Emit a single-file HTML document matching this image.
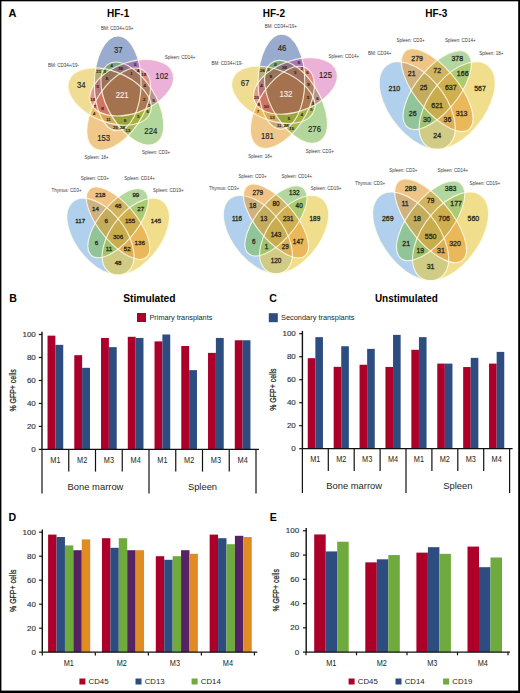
<!DOCTYPE html>
<html><head><meta charset="utf-8"><style>
html,body{margin:0;padding:0;background:#fff;}
svg{display:block;font-family:"Liberation Sans",sans-serif;}
</style></head><body>
<svg width="520" height="693" viewBox="0 0 520 693">
<rect x="0" y="0" width="520" height="693" fill="#fff"/>
<text x="8.40" y="17.20" font-size="11.00" text-anchor="start" font-weight="bold" fill="#000" >A</text>
<text x="9.30" y="302.20" font-size="10.60" text-anchor="start" font-weight="bold" fill="#000" >B</text>
<text x="269.30" y="302.20" font-size="10.60" text-anchor="start" font-weight="bold" fill="#000" >C</text>
<text x="8.60" y="521.40" font-size="10.60" text-anchor="start" font-weight="bold" fill="#000" >D</text>
<text x="269.80" y="521.40" font-size="10.60" text-anchor="start" font-weight="bold" fill="#000" >E</text>
<text x="118.10" y="17.20" font-size="10.00" text-anchor="middle" font-weight="bold" fill="#000" >HF-1</text>
<text x="273.90" y="17.20" font-size="10.00" text-anchor="middle" font-weight="bold" fill="#000" >HF-2</text>
<text x="436.30" y="17.20" font-size="10.00" text-anchor="middle" font-weight="bold" fill="#000" >HF-3</text>
<g transform="matrix(94.0725,0,0,-103.0846,74.972,147.607)">
<ellipse cx="0.45438" cy="0.62323" rx="0.2483" ry="0.46" transform="rotate(-0.693 0.45438 0.62323)" fill="rgb(149,166,206)" fill-opacity="0.950"/>
<ellipse cx="0.36871" cy="0.49469" rx="0.2483" ry="0.46" transform="rotate(-288.693 0.36871 0.49469)" fill="rgb(220,173,0)" fill-opacity="0.429"/>
<ellipse cx="0.46448" cy="0.37349" rx="0.2483" ry="0.46" transform="rotate(-216.693 0.46448 0.37349)" fill="rgb(231,168,73)" fill-opacity="0.633"/>
<ellipse cx="0.60934" cy="0.42712" rx="0.2483" ry="0.46" transform="rotate(-144.693 0.60934 0.42712)" fill="rgb(73,158,20)" fill-opacity="0.422"/>
<ellipse cx="0.60310" cy="0.58147" rx="0.2483" ry="0.46" transform="rotate(-72.693 0.60310 0.58147)" fill="rgb(189,0,127)" fill-opacity="0.305"/>
<ellipse cx="0.45438" cy="0.62323" rx="0.2483" ry="0.46" transform="rotate(-0.693 0.45438 0.62323)" fill="none" stroke="#fffbe6" stroke-opacity="0.85" stroke-width="1.15" vector-effect="non-scaling-stroke"/>
<ellipse cx="0.36871" cy="0.49469" rx="0.2483" ry="0.46" transform="rotate(-288.693 0.36871 0.49469)" fill="none" stroke="#fffbe6" stroke-opacity="0.85" stroke-width="1.15" vector-effect="non-scaling-stroke"/>
<ellipse cx="0.46448" cy="0.37349" rx="0.2483" ry="0.46" transform="rotate(-216.693 0.46448 0.37349)" fill="none" stroke="#fffbe6" stroke-opacity="0.85" stroke-width="1.15" vector-effect="non-scaling-stroke"/>
<ellipse cx="0.60934" cy="0.42712" rx="0.2483" ry="0.46" transform="rotate(-144.693 0.60934 0.42712)" fill="none" stroke="#fffbe6" stroke-opacity="0.85" stroke-width="1.15" vector-effect="non-scaling-stroke"/>
<ellipse cx="0.60310" cy="0.58147" rx="0.2483" ry="0.46" transform="rotate(-72.693 0.60310 0.58147)" fill="none" stroke="#fffbe6" stroke-opacity="0.85" stroke-width="1.15" vector-effect="non-scaling-stroke"/>
</g>
<text x="118.30" y="52.81" font-size="8.70" text-anchor="middle" fill="#231f20" stroke="#231f20" stroke-width="0.15" textLength="8.60" lengthAdjust="spacingAndGlyphs">37</text>
<text x="161.80" y="79.21" font-size="8.70" text-anchor="middle" fill="#231f20" stroke="#231f20" stroke-width="0.15" textLength="12.90" lengthAdjust="spacingAndGlyphs">102</text>
<text x="135.25" y="65.80" font-size="4.30" text-anchor="middle" fill="#2a1a10" stroke="#2a1a10" stroke-width="0.2">5</text>
<text x="150.80" y="133.91" font-size="8.70" text-anchor="middle" fill="#231f20" stroke="#231f20" stroke-width="0.15" textLength="12.90" lengthAdjust="spacingAndGlyphs">224</text>
<text x="111.75" y="67.30" font-size="4.30" text-anchor="middle" fill="#2a1a10" stroke="#2a1a10" stroke-width="0.2">4</text>
<text x="153.75" y="101.80" font-size="4.30" text-anchor="middle" fill="#2a1a10" stroke="#2a1a10" stroke-width="0.2">5</text>
<text x="120.75" y="70.30" font-size="4.30" text-anchor="middle" fill="#2a1a10" stroke="#2a1a10" stroke-width="0.2">36</text>
<text x="103.70" y="141.11" font-size="8.70" text-anchor="middle" fill="#231f20" stroke="#231f20" stroke-width="0.15" textLength="12.90" lengthAdjust="spacingAndGlyphs">153</text>
<text x="115.50" y="129.05" font-size="4.30" text-anchor="middle" fill="#2a1a10" stroke="#2a1a10" stroke-width="0.2">25</text>
<text x="143.75" y="76.05" font-size="4.30" text-anchor="middle" fill="#2a1a10" stroke="#2a1a10" stroke-width="0.2">19</text>
<text x="138.25" y="72.05" font-size="4.30" text-anchor="middle" fill="#2a1a10" stroke="#2a1a10" stroke-width="0.2">4</text>
<text x="128.00" y="132.05" font-size="4.30" text-anchor="middle" fill="#2a1a10" stroke="#2a1a10" stroke-width="0.2">13</text>
<text x="122.50" y="128.80" font-size="4.30" text-anchor="middle" fill="#2a1a10" stroke="#2a1a10" stroke-width="0.2">24</text>
<text x="144.75" y="87.30" font-size="4.30" text-anchor="middle" fill="#2a1a10" stroke="#2a1a10" stroke-width="0.2">4</text>
<text x="131.50" y="75.30" font-size="4.30" text-anchor="middle" fill="#2a1a10" stroke="#2a1a10" stroke-width="0.2">1</text>
<text x="81.30" y="87.81" font-size="8.70" text-anchor="middle" fill="#231f20" stroke="#231f20" stroke-width="0.15" textLength="8.60" lengthAdjust="spacingAndGlyphs">34</text>
<text x="98.75" y="73.30" font-size="4.30" text-anchor="middle" fill="#2a1a10" stroke="#2a1a10" stroke-width="0.2">21</text>
<text x="92.75" y="100.80" font-size="4.30" text-anchor="middle" fill="#2a1a10" stroke="#2a1a10" stroke-width="0.2">18</text>
<text x="97.75" y="88.30" font-size="4.30" text-anchor="middle" fill="#2a1a10" stroke="#2a1a10" stroke-width="0.2">5</text>
<text x="147.75" y="113.05" font-size="4.30" text-anchor="middle" fill="#2a1a10" stroke="#2a1a10" stroke-width="0.2">6</text>
<text x="104.75" y="72.80" font-size="4.30" text-anchor="middle" fill="#2a1a10" stroke="#2a1a10" stroke-width="0.2">3</text>
<text x="149.25" y="106.80" font-size="4.30" text-anchor="middle" fill="#2a1a10" stroke="#2a1a10" stroke-width="0.2">2</text>
<text x="107.00" y="79.55" font-size="4.30" text-anchor="middle" fill="#2a1a10" stroke="#2a1a10" stroke-width="0.2">8</text>
<text x="94.25" y="114.80" font-size="4.30" text-anchor="middle" fill="#2a1a10" stroke="#2a1a10" stroke-width="0.2">4</text>
<text x="108.50" y="120.55" font-size="4.30" text-anchor="middle" fill="#2a1a10" stroke="#2a1a10" stroke-width="0.2">11</text>
<text x="95.00" y="107.80" font-size="4.30" text-anchor="middle" fill="#2a1a10" stroke="#2a1a10" stroke-width="0.2">7</text>
<text x="102.50" y="109.80" font-size="4.30" text-anchor="middle" fill="#2a1a10" stroke="#2a1a10" stroke-width="0.2">9</text>
<text x="138.25" y="117.55" font-size="4.30" text-anchor="middle" fill="#2a1a10" stroke="#2a1a10" stroke-width="0.2">3</text>
<text x="125.25" y="121.80" font-size="4.30" text-anchor="middle" fill="#2a1a10" stroke="#2a1a10" stroke-width="0.2">6</text>
<text x="144.25" y="100.80" font-size="4.30" text-anchor="middle" fill="#2a1a10" stroke="#2a1a10" stroke-width="0.2">2</text>
<text x="122.20" y="98.41" font-size="8.70" text-anchor="middle" fill="#fbeee0" stroke="#fbeee0" stroke-width="0.15" textLength="12.90" lengthAdjust="spacingAndGlyphs">221</text>
<text x="101.00" y="29.68" font-size="4.50" text-anchor="start" fill="#3a3a3a" >BM: CD34+/19+</text>
<text x="47.90" y="66.88" font-size="4.50" text-anchor="start" fill="#3a3a3a" >BM: CD34+/19-</text>
<text x="164.80" y="59.38" font-size="4.50" text-anchor="start" fill="#3a3a3a" >Spleen: CD14+</text>
<text x="142.00" y="154.38" font-size="4.50" text-anchor="start" fill="#3a3a3a" >Spleen: CD3+</text>
<text x="84.60" y="159.27" font-size="4.50" text-anchor="start" fill="#3a3a3a" >Spleen: 18+</text>
<g transform="matrix(94.0725,0,0,-103.0846,238.672,145.907)">
<ellipse cx="0.45438" cy="0.62323" rx="0.2483" ry="0.46" transform="rotate(-0.693 0.45438 0.62323)" fill="rgb(149,166,206)" fill-opacity="0.950"/>
<ellipse cx="0.36871" cy="0.49469" rx="0.2483" ry="0.46" transform="rotate(-288.693 0.36871 0.49469)" fill="rgb(220,173,0)" fill-opacity="0.429"/>
<ellipse cx="0.46448" cy="0.37349" rx="0.2483" ry="0.46" transform="rotate(-216.693 0.46448 0.37349)" fill="rgb(231,168,73)" fill-opacity="0.633"/>
<ellipse cx="0.60934" cy="0.42712" rx="0.2483" ry="0.46" transform="rotate(-144.693 0.60934 0.42712)" fill="rgb(73,158,20)" fill-opacity="0.422"/>
<ellipse cx="0.60310" cy="0.58147" rx="0.2483" ry="0.46" transform="rotate(-72.693 0.60310 0.58147)" fill="rgb(189,0,127)" fill-opacity="0.305"/>
<ellipse cx="0.45438" cy="0.62323" rx="0.2483" ry="0.46" transform="rotate(-0.693 0.45438 0.62323)" fill="none" stroke="#fffbe6" stroke-opacity="0.85" stroke-width="1.15" vector-effect="non-scaling-stroke"/>
<ellipse cx="0.36871" cy="0.49469" rx="0.2483" ry="0.46" transform="rotate(-288.693 0.36871 0.49469)" fill="none" stroke="#fffbe6" stroke-opacity="0.85" stroke-width="1.15" vector-effect="non-scaling-stroke"/>
<ellipse cx="0.46448" cy="0.37349" rx="0.2483" ry="0.46" transform="rotate(-216.693 0.46448 0.37349)" fill="none" stroke="#fffbe6" stroke-opacity="0.85" stroke-width="1.15" vector-effect="non-scaling-stroke"/>
<ellipse cx="0.60934" cy="0.42712" rx="0.2483" ry="0.46" transform="rotate(-144.693 0.60934 0.42712)" fill="none" stroke="#fffbe6" stroke-opacity="0.85" stroke-width="1.15" vector-effect="non-scaling-stroke"/>
<ellipse cx="0.60310" cy="0.58147" rx="0.2483" ry="0.46" transform="rotate(-72.693 0.60310 0.58147)" fill="none" stroke="#fffbe6" stroke-opacity="0.85" stroke-width="1.15" vector-effect="non-scaling-stroke"/>
</g>
<text x="282.00" y="51.11" font-size="8.70" text-anchor="middle" fill="#231f20" stroke="#231f20" stroke-width="0.15" textLength="8.60" lengthAdjust="spacingAndGlyphs">46</text>
<text x="325.50" y="77.51" font-size="8.70" text-anchor="middle" fill="#231f20" stroke="#231f20" stroke-width="0.15" textLength="12.90" lengthAdjust="spacingAndGlyphs">125</text>
<text x="298.95" y="64.10" font-size="4.30" text-anchor="middle" fill="#2a1a10" stroke="#2a1a10" stroke-width="0.2">6</text>
<text x="314.50" y="132.21" font-size="8.70" text-anchor="middle" fill="#231f20" stroke="#231f20" stroke-width="0.15" textLength="12.90" lengthAdjust="spacingAndGlyphs">276</text>
<text x="275.45" y="65.60" font-size="4.30" text-anchor="middle" fill="#2a1a10" stroke="#2a1a10" stroke-width="0.2">8</text>
<text x="317.45" y="100.10" font-size="4.30" text-anchor="middle" fill="#2a1a10" stroke="#2a1a10" stroke-width="0.2">6</text>
<text x="284.45" y="68.60" font-size="4.30" text-anchor="middle" fill="#2a1a10" stroke="#2a1a10" stroke-width="0.2">38</text>
<text x="267.40" y="139.41" font-size="8.70" text-anchor="middle" fill="#231f20" stroke="#231f20" stroke-width="0.15" textLength="12.90" lengthAdjust="spacingAndGlyphs">181</text>
<text x="279.20" y="127.35" font-size="4.30" text-anchor="middle" fill="#2a1a10" stroke="#2a1a10" stroke-width="0.2">11</text>
<text x="307.45" y="74.35" font-size="4.30" text-anchor="middle" fill="#2a1a10" stroke="#2a1a10" stroke-width="0.2">6</text>
<text x="301.95" y="70.35" font-size="4.30" text-anchor="middle" fill="#2a1a10" stroke="#2a1a10" stroke-width="0.2">2</text>
<text x="291.70" y="130.35" font-size="4.30" text-anchor="middle" fill="#2a1a10" stroke="#2a1a10" stroke-width="0.2">15</text>
<text x="286.20" y="127.10" font-size="4.30" text-anchor="middle" fill="#2a1a10" stroke="#2a1a10" stroke-width="0.2">28</text>
<text x="308.45" y="85.60" font-size="4.30" text-anchor="middle" fill="#2a1a10" stroke="#2a1a10" stroke-width="0.2">9</text>
<text x="295.20" y="73.60" font-size="4.30" text-anchor="middle" fill="#2a1a10" stroke="#2a1a10" stroke-width="0.2">3</text>
<text x="245.00" y="86.11" font-size="8.70" text-anchor="middle" fill="#231f20" stroke="#231f20" stroke-width="0.15" textLength="8.60" lengthAdjust="spacingAndGlyphs">67</text>
<text x="262.45" y="71.60" font-size="4.30" text-anchor="middle" fill="#2a1a10" stroke="#2a1a10" stroke-width="0.2">26</text>
<text x="256.45" y="99.10" font-size="4.30" text-anchor="middle" fill="#2a1a10" stroke="#2a1a10" stroke-width="0.2">20</text>
<text x="261.45" y="86.60" font-size="4.30" text-anchor="middle" fill="#2a1a10" stroke="#2a1a10" stroke-width="0.2">4</text>
<text x="311.45" y="111.35" font-size="4.30" text-anchor="middle" fill="#2a1a10" stroke="#2a1a10" stroke-width="0.2">5</text>
<text x="268.45" y="71.10" font-size="4.30" text-anchor="middle" fill="#2a1a10" stroke="#2a1a10" stroke-width="0.2">2</text>
<text x="312.95" y="105.10" font-size="4.30" text-anchor="middle" fill="#2a1a10" stroke="#2a1a10" stroke-width="0.2">3</text>
<text x="270.70" y="77.85" font-size="4.30" text-anchor="middle" fill="#2a1a10" stroke="#2a1a10" stroke-width="0.2">9</text>
<text x="257.95" y="113.10" font-size="4.30" text-anchor="middle" fill="#2a1a10" stroke="#2a1a10" stroke-width="0.2">7</text>
<text x="272.20" y="118.85" font-size="4.30" text-anchor="middle" fill="#2a1a10" stroke="#2a1a10" stroke-width="0.2">13</text>
<text x="258.70" y="106.10" font-size="4.30" text-anchor="middle" fill="#2a1a10" stroke="#2a1a10" stroke-width="0.2">8</text>
<text x="266.20" y="108.10" font-size="4.30" text-anchor="middle" fill="#2a1a10" stroke="#2a1a10" stroke-width="0.2">10</text>
<text x="301.95" y="115.85" font-size="4.30" text-anchor="middle" fill="#2a1a10" stroke="#2a1a10" stroke-width="0.2">4</text>
<text x="288.95" y="120.10" font-size="4.30" text-anchor="middle" fill="#2a1a10" stroke="#2a1a10" stroke-width="0.2">5</text>
<text x="307.95" y="99.10" font-size="4.30" text-anchor="middle" fill="#2a1a10" stroke="#2a1a10" stroke-width="0.2">3</text>
<text x="285.90" y="96.71" font-size="8.70" text-anchor="middle" fill="#fbeee0" stroke="#fbeee0" stroke-width="0.15" textLength="12.90" lengthAdjust="spacingAndGlyphs">132</text>
<text x="264.70" y="27.98" font-size="4.50" text-anchor="start" fill="#3a3a3a" >BM: CD34+/19+</text>
<text x="211.60" y="65.17" font-size="4.50" text-anchor="start" fill="#3a3a3a" >BM: CD34+/19-</text>
<text x="328.50" y="57.67" font-size="4.50" text-anchor="start" fill="#3a3a3a" >Spleen: CD14+</text>
<text x="305.70" y="152.68" font-size="4.50" text-anchor="start" fill="#3a3a3a" >Spleen: CD3+</text>
<text x="248.30" y="157.57" font-size="4.50" text-anchor="start" fill="#3a3a3a" >Spleen: 18+</text>
<g transform="matrix(133.1320,0,0,-153.5012,370.618,177.665)">
<ellipse cx="0.35000" cy="0.47000" rx="0.35" ry="0.2" transform="rotate(135.000 0.35000 0.47000)" fill="rgb(123,177,227)" fill-opacity="0.600"/>
<ellipse cx="0.65000" cy="0.47000" rx="0.35" ry="0.2" transform="rotate(45.000 0.65000 0.47000)" fill="rgb(230,200,63)" fill-opacity="0.600"/>
<ellipse cx="0.50000" cy="0.57000" rx="0.33" ry="0.15" transform="rotate(45.000 0.50000 0.57000)" fill="rgb(127,188,97)" fill-opacity="0.600"/>
<ellipse cx="0.50000" cy="0.57000" rx="0.35" ry="0.15" transform="rotate(135.000 0.50000 0.57000)" fill="rgb(230,157,55)" fill-opacity="0.600"/>
<ellipse cx="0.35000" cy="0.47000" rx="0.35" ry="0.2" transform="rotate(135.000 0.35000 0.47000)" fill="none" stroke="#fffbe6" stroke-opacity="0.85" stroke-width="1.15" vector-effect="non-scaling-stroke"/>
<ellipse cx="0.65000" cy="0.47000" rx="0.35" ry="0.2" transform="rotate(45.000 0.65000 0.47000)" fill="none" stroke="#fffbe6" stroke-opacity="0.85" stroke-width="1.15" vector-effect="non-scaling-stroke"/>
<ellipse cx="0.50000" cy="0.57000" rx="0.33" ry="0.15" transform="rotate(45.000 0.50000 0.57000)" fill="none" stroke="#fffbe6" stroke-opacity="0.85" stroke-width="1.15" vector-effect="non-scaling-stroke"/>
<ellipse cx="0.50000" cy="0.57000" rx="0.35" ry="0.15" transform="rotate(135.000 0.50000 0.57000)" fill="none" stroke="#fffbe6" stroke-opacity="0.85" stroke-width="1.15" vector-effect="non-scaling-stroke"/>
</g>
<text x="394.37" y="90.50" font-size="7.00" text-anchor="middle" fill="#2a2a1a" stroke="#2a2a1a" stroke-width="0.3">210</text>
<text x="417.14" y="60.54" font-size="7.00" text-anchor="middle" fill="#2a2a1a" stroke="#2a2a1a" stroke-width="0.3">279</text>
<text x="457.23" y="60.54" font-size="7.00" text-anchor="middle" fill="#2a2a1a" stroke="#2a2a1a" stroke-width="0.3">378</text>
<text x="480.00" y="90.50" font-size="7.00" text-anchor="middle" fill="#2a2a1a" stroke="#2a2a1a" stroke-width="0.3">567</text>
<text x="411.68" y="76.04" font-size="7.00" text-anchor="middle" fill="#2a2a1a" stroke="#2a2a1a" stroke-width="0.3">21</text>
<text x="437.18" y="72.99" font-size="7.00" text-anchor="middle" fill="#2a2a1a" stroke="#2a2a1a" stroke-width="0.3">72</text>
<text x="462.69" y="76.04" font-size="7.00" text-anchor="middle" fill="#2a2a1a" stroke="#2a2a1a" stroke-width="0.3">166</text>
<text x="423.63" y="90.30" font-size="7.00" text-anchor="middle" fill="#2a2a1a" stroke="#2a2a1a" stroke-width="0.3">25</text>
<text x="450.74" y="90.30" font-size="7.00" text-anchor="middle" fill="#2a2a1a" stroke="#2a2a1a" stroke-width="0.3">637</text>
<text x="437.18" y="107.99" font-size="7.00" text-anchor="middle" fill="#2a2a1a" stroke="#2a2a1a" stroke-width="0.3">621</text>
<text x="412.77" y="115.54" font-size="7.00" text-anchor="middle" fill="#2a2a1a" stroke="#2a2a1a" stroke-width="0.3">26</text>
<text x="461.59" y="115.54" font-size="7.00" text-anchor="middle" fill="#2a2a1a" stroke="#2a2a1a" stroke-width="0.3">313</text>
<text x="426.90" y="121.90" font-size="7.00" text-anchor="middle" fill="#2a2a1a" stroke="#2a2a1a" stroke-width="0.3">30</text>
<text x="447.47" y="121.90" font-size="7.00" text-anchor="middle" fill="#2a2a1a" stroke="#2a2a1a" stroke-width="0.3">36</text>
<text x="437.18" y="137.75" font-size="7.00" text-anchor="middle" fill="#2a2a1a" stroke="#2a2a1a" stroke-width="0.3">24</text>
<text x="368.00" y="55.28" font-size="4.50" text-anchor="start" fill="#3a3a3a" >BM: CD34+</text>
<text x="396.50" y="42.18" font-size="4.50" text-anchor="start" fill="#3a3a3a" >Spleen: CD3+</text>
<text x="445.00" y="42.18" font-size="4.50" text-anchor="start" fill="#3a3a3a" >Spleen: CD14+</text>
<text x="479.30" y="55.28" font-size="4.50" text-anchor="start" fill="#3a3a3a" >Spleen: 18+</text>
<g transform="matrix(117.8490,0,0,-134.5836,59.179,299.841)">
<ellipse cx="0.35000" cy="0.47000" rx="0.35" ry="0.2" transform="rotate(135.000 0.35000 0.47000)" fill="rgb(123,177,227)" fill-opacity="0.600"/>
<ellipse cx="0.65000" cy="0.47000" rx="0.35" ry="0.2" transform="rotate(45.000 0.65000 0.47000)" fill="rgb(230,200,63)" fill-opacity="0.600"/>
<ellipse cx="0.50000" cy="0.57000" rx="0.33" ry="0.15" transform="rotate(45.000 0.50000 0.57000)" fill="rgb(127,188,97)" fill-opacity="0.600"/>
<ellipse cx="0.50000" cy="0.57000" rx="0.35" ry="0.15" transform="rotate(135.000 0.50000 0.57000)" fill="rgb(230,157,55)" fill-opacity="0.600"/>
<ellipse cx="0.35000" cy="0.47000" rx="0.35" ry="0.2" transform="rotate(135.000 0.35000 0.47000)" fill="none" stroke="#fffbe6" stroke-opacity="0.85" stroke-width="1.15" vector-effect="non-scaling-stroke"/>
<ellipse cx="0.65000" cy="0.47000" rx="0.35" ry="0.2" transform="rotate(45.000 0.65000 0.47000)" fill="none" stroke="#fffbe6" stroke-opacity="0.85" stroke-width="1.15" vector-effect="non-scaling-stroke"/>
<ellipse cx="0.50000" cy="0.57000" rx="0.33" ry="0.15" transform="rotate(45.000 0.50000 0.57000)" fill="none" stroke="#fffbe6" stroke-opacity="0.85" stroke-width="1.15" vector-effect="non-scaling-stroke"/>
<ellipse cx="0.50000" cy="0.57000" rx="0.35" ry="0.15" transform="rotate(135.000 0.50000 0.57000)" fill="none" stroke="#fffbe6" stroke-opacity="0.85" stroke-width="1.15" vector-effect="non-scaling-stroke"/>
</g>
<text x="80.21" y="223.44" font-size="6.20" text-anchor="middle" fill="#2a2a1a" stroke="#2a2a1a" stroke-width="0.3">117</text>
<text x="100.36" y="197.17" font-size="6.20" text-anchor="middle" fill="#2a2a1a" stroke="#2a2a1a" stroke-width="0.3">218</text>
<text x="135.85" y="197.17" font-size="6.20" text-anchor="middle" fill="#2a2a1a" stroke="#2a2a1a" stroke-width="0.3">99</text>
<text x="156.00" y="223.44" font-size="6.20" text-anchor="middle" fill="#2a2a1a" stroke="#2a2a1a" stroke-width="0.3">145</text>
<text x="95.52" y="210.76" font-size="6.20" text-anchor="middle" fill="#2a2a1a" stroke="#2a2a1a" stroke-width="0.3">14</text>
<text x="118.10" y="208.09" font-size="6.20" text-anchor="middle" fill="#2a2a1a" stroke="#2a2a1a" stroke-width="0.3">48</text>
<text x="140.68" y="210.76" font-size="6.20" text-anchor="middle" fill="#2a2a1a" stroke="#2a2a1a" stroke-width="0.3">27</text>
<text x="106.11" y="223.27" font-size="6.20" text-anchor="middle" fill="#2a2a1a" stroke="#2a2a1a" stroke-width="0.3">6</text>
<text x="130.10" y="223.27" font-size="6.20" text-anchor="middle" fill="#2a2a1a" stroke="#2a2a1a" stroke-width="0.3">155</text>
<text x="118.10" y="238.77" font-size="6.20" text-anchor="middle" fill="#2a2a1a" stroke="#2a2a1a" stroke-width="0.3">306</text>
<text x="96.50" y="245.39" font-size="6.20" text-anchor="middle" fill="#2a2a1a" stroke="#2a2a1a" stroke-width="0.3">6</text>
<text x="139.71" y="245.39" font-size="6.20" text-anchor="middle" fill="#2a2a1a" stroke="#2a2a1a" stroke-width="0.3">136</text>
<text x="109.00" y="250.97" font-size="6.20" text-anchor="middle" fill="#2a2a1a" stroke="#2a2a1a" stroke-width="0.3">11</text>
<text x="127.21" y="250.97" font-size="6.20" text-anchor="middle" fill="#2a2a1a" stroke="#2a2a1a" stroke-width="0.3">52</text>
<text x="118.10" y="264.86" font-size="6.20" text-anchor="middle" fill="#2a2a1a" stroke="#2a2a1a" stroke-width="0.3">48</text>
<text x="51.50" y="191.57" font-size="4.50" text-anchor="start" fill="#3a3a3a" >Thymus: CD3+</text>
<text x="80.80" y="180.38" font-size="4.50" text-anchor="start" fill="#3a3a3a" >Spleen: CD3+</text>
<text x="124.20" y="180.07" font-size="4.50" text-anchor="start" fill="#3a3a3a" >Spleen: CD14+</text>
<text x="153.10" y="191.88" font-size="4.50" text-anchor="start" fill="#3a3a3a" >Spleen: CD19+</text>
<g transform="matrix(120.9500,0,0,-137.0363,215.513,299.059)">
<ellipse cx="0.35000" cy="0.47000" rx="0.35" ry="0.2" transform="rotate(135.000 0.35000 0.47000)" fill="rgb(123,177,227)" fill-opacity="0.600"/>
<ellipse cx="0.65000" cy="0.47000" rx="0.35" ry="0.2" transform="rotate(45.000 0.65000 0.47000)" fill="rgb(230,200,63)" fill-opacity="0.600"/>
<ellipse cx="0.50000" cy="0.57000" rx="0.33" ry="0.15" transform="rotate(45.000 0.50000 0.57000)" fill="rgb(127,188,97)" fill-opacity="0.600"/>
<ellipse cx="0.50000" cy="0.57000" rx="0.35" ry="0.15" transform="rotate(135.000 0.50000 0.57000)" fill="rgb(230,157,55)" fill-opacity="0.600"/>
<ellipse cx="0.35000" cy="0.47000" rx="0.35" ry="0.2" transform="rotate(135.000 0.35000 0.47000)" fill="none" stroke="#fffbe6" stroke-opacity="0.85" stroke-width="1.15" vector-effect="non-scaling-stroke"/>
<ellipse cx="0.65000" cy="0.47000" rx="0.35" ry="0.2" transform="rotate(45.000 0.65000 0.47000)" fill="none" stroke="#fffbe6" stroke-opacity="0.85" stroke-width="1.15" vector-effect="non-scaling-stroke"/>
<ellipse cx="0.50000" cy="0.57000" rx="0.33" ry="0.15" transform="rotate(45.000 0.50000 0.57000)" fill="none" stroke="#fffbe6" stroke-opacity="0.85" stroke-width="1.15" vector-effect="non-scaling-stroke"/>
<ellipse cx="0.50000" cy="0.57000" rx="0.35" ry="0.15" transform="rotate(135.000 0.50000 0.57000)" fill="none" stroke="#fffbe6" stroke-opacity="0.85" stroke-width="1.15" vector-effect="non-scaling-stroke"/>
</g>
<text x="237.09" y="221.28" font-size="6.36" text-anchor="middle" fill="#2a2a1a" stroke="#2a2a1a" stroke-width="0.3">116</text>
<text x="257.78" y="194.54" font-size="6.36" text-anchor="middle" fill="#2a2a1a" stroke="#2a2a1a" stroke-width="0.3">279</text>
<text x="294.20" y="194.54" font-size="6.36" text-anchor="middle" fill="#2a2a1a" stroke="#2a2a1a" stroke-width="0.3">132</text>
<text x="314.88" y="221.28" font-size="6.36" text-anchor="middle" fill="#2a2a1a" stroke="#2a2a1a" stroke-width="0.3">189</text>
<text x="252.82" y="208.37" font-size="6.36" text-anchor="middle" fill="#2a2a1a" stroke="#2a2a1a" stroke-width="0.3">18</text>
<text x="275.99" y="205.65" font-size="6.36" text-anchor="middle" fill="#2a2a1a" stroke="#2a2a1a" stroke-width="0.3">80</text>
<text x="299.16" y="208.37" font-size="6.36" text-anchor="middle" fill="#2a2a1a" stroke="#2a2a1a" stroke-width="0.3">40</text>
<text x="263.68" y="221.11" font-size="6.36" text-anchor="middle" fill="#2a2a1a" stroke="#2a2a1a" stroke-width="0.3">13</text>
<text x="288.30" y="221.11" font-size="6.36" text-anchor="middle" fill="#2a2a1a" stroke="#2a2a1a" stroke-width="0.3">231</text>
<text x="275.99" y="236.90" font-size="6.36" text-anchor="middle" fill="#2a2a1a" stroke="#2a2a1a" stroke-width="0.3">143</text>
<text x="253.81" y="243.64" font-size="6.36" text-anchor="middle" fill="#2a2a1a" stroke="#2a2a1a" stroke-width="0.3">6</text>
<text x="298.16" y="243.64" font-size="6.36" text-anchor="middle" fill="#2a2a1a" stroke="#2a2a1a" stroke-width="0.3">147</text>
<text x="266.64" y="249.31" font-size="6.36" text-anchor="middle" fill="#2a2a1a" stroke="#2a2a1a" stroke-width="0.3">1</text>
<text x="285.33" y="249.31" font-size="6.36" text-anchor="middle" fill="#2a2a1a" stroke="#2a2a1a" stroke-width="0.3">29</text>
<text x="275.99" y="263.46" font-size="6.36" text-anchor="middle" fill="#2a2a1a" stroke="#2a2a1a" stroke-width="0.3">120</text>
<text x="208.90" y="189.57" font-size="4.50" text-anchor="start" fill="#3a3a3a" >Thymus: CD3+</text>
<text x="238.50" y="177.77" font-size="4.50" text-anchor="start" fill="#3a3a3a" >Spleen: CD3+</text>
<text x="281.50" y="177.57" font-size="4.50" text-anchor="start" fill="#3a3a3a" >Spleen: CD14+</text>
<text x="310.70" y="189.57" font-size="4.50" text-anchor="start" fill="#3a3a3a" >Spleen: CD19+</text>
<g transform="matrix(133.1320,0,0,-155.2319,364.042,309.294)">
<ellipse cx="0.35000" cy="0.47000" rx="0.35" ry="0.2" transform="rotate(135.000 0.35000 0.47000)" fill="rgb(123,177,227)" fill-opacity="0.600"/>
<ellipse cx="0.65000" cy="0.47000" rx="0.35" ry="0.2" transform="rotate(45.000 0.65000 0.47000)" fill="rgb(230,200,63)" fill-opacity="0.600"/>
<ellipse cx="0.50000" cy="0.57000" rx="0.33" ry="0.15" transform="rotate(45.000 0.50000 0.57000)" fill="rgb(127,188,97)" fill-opacity="0.600"/>
<ellipse cx="0.50000" cy="0.57000" rx="0.35" ry="0.15" transform="rotate(135.000 0.50000 0.57000)" fill="rgb(230,157,55)" fill-opacity="0.600"/>
<ellipse cx="0.35000" cy="0.47000" rx="0.35" ry="0.2" transform="rotate(135.000 0.35000 0.47000)" fill="none" stroke="#fffbe6" stroke-opacity="0.85" stroke-width="1.15" vector-effect="non-scaling-stroke"/>
<ellipse cx="0.65000" cy="0.47000" rx="0.35" ry="0.2" transform="rotate(45.000 0.65000 0.47000)" fill="none" stroke="#fffbe6" stroke-opacity="0.85" stroke-width="1.15" vector-effect="non-scaling-stroke"/>
<ellipse cx="0.50000" cy="0.57000" rx="0.33" ry="0.15" transform="rotate(45.000 0.50000 0.57000)" fill="none" stroke="#fffbe6" stroke-opacity="0.85" stroke-width="1.15" vector-effect="non-scaling-stroke"/>
<ellipse cx="0.50000" cy="0.57000" rx="0.35" ry="0.15" transform="rotate(135.000 0.50000 0.57000)" fill="none" stroke="#fffbe6" stroke-opacity="0.85" stroke-width="1.15" vector-effect="non-scaling-stroke"/>
</g>
<text x="387.80" y="221.12" font-size="7.00" text-anchor="middle" fill="#2a2a1a" stroke="#2a2a1a" stroke-width="0.3">269</text>
<text x="410.56" y="190.82" font-size="7.00" text-anchor="middle" fill="#2a2a1a" stroke="#2a2a1a" stroke-width="0.3">289</text>
<text x="450.65" y="190.82" font-size="7.00" text-anchor="middle" fill="#2a2a1a" stroke="#2a2a1a" stroke-width="0.3">383</text>
<text x="473.42" y="221.12" font-size="7.00" text-anchor="middle" fill="#2a2a1a" stroke="#2a2a1a" stroke-width="0.3">560</text>
<text x="405.10" y="206.49" font-size="7.00" text-anchor="middle" fill="#2a2a1a" stroke="#2a2a1a" stroke-width="0.3">11</text>
<text x="430.61" y="203.41" font-size="7.00" text-anchor="middle" fill="#2a2a1a" stroke="#2a2a1a" stroke-width="0.3">79</text>
<text x="456.11" y="206.49" font-size="7.00" text-anchor="middle" fill="#2a2a1a" stroke="#2a2a1a" stroke-width="0.3">177</text>
<text x="417.06" y="220.92" font-size="7.00" text-anchor="middle" fill="#2a2a1a" stroke="#2a2a1a" stroke-width="0.3">18</text>
<text x="444.16" y="220.92" font-size="7.00" text-anchor="middle" fill="#2a2a1a" stroke="#2a2a1a" stroke-width="0.3">706</text>
<text x="430.61" y="238.80" font-size="7.00" text-anchor="middle" fill="#2a2a1a" stroke="#2a2a1a" stroke-width="0.3">550</text>
<text x="406.20" y="246.44" font-size="7.00" text-anchor="middle" fill="#2a2a1a" stroke="#2a2a1a" stroke-width="0.3">21</text>
<text x="455.02" y="246.44" font-size="7.00" text-anchor="middle" fill="#2a2a1a" stroke="#2a2a1a" stroke-width="0.3">320</text>
<text x="420.32" y="252.87" font-size="7.00" text-anchor="middle" fill="#2a2a1a" stroke="#2a2a1a" stroke-width="0.3">19</text>
<text x="440.90" y="252.87" font-size="7.00" text-anchor="middle" fill="#2a2a1a" stroke="#2a2a1a" stroke-width="0.3">31</text>
<text x="430.61" y="268.90" font-size="7.00" text-anchor="middle" fill="#2a2a1a" stroke="#2a2a1a" stroke-width="0.3">31</text>
<text x="355.00" y="185.38" font-size="4.50" text-anchor="start" fill="#3a3a3a" >Thymus: CD3+</text>
<text x="389.30" y="172.07" font-size="4.50" text-anchor="start" fill="#3a3a3a" >Spleen: CD3+</text>
<text x="437.60" y="172.07" font-size="4.50" text-anchor="start" fill="#3a3a3a" >Spleen: CD14+</text>
<text x="469.60" y="185.38" font-size="4.50" text-anchor="start" fill="#3a3a3a" >Spleen: CD19+</text>
<text x="149.40" y="302.20" font-size="10.50" text-anchor="middle" font-weight="bold" fill="#000"  textLength="52.30" lengthAdjust="spacingAndGlyphs">Stimulated</text>
<rect x="137.00" y="313.00" width="9" height="9" fill="rgb(172,0,42)"/>
<text x="149.50" y="320.13" font-size="7.30" text-anchor="start" fill="#231f20" >Primary transplants</text>
<line x1="42" y1="331.70" x2="42" y2="449.40" stroke="#111" stroke-width="1.4"/>
<line x1="38.80" y1="449.40" x2="42" y2="449.40" stroke="#111" stroke-width="1.2"/>
<text x="35.80" y="451.80" font-size="8.00" text-anchor="end" fill="#333" stroke="#333" stroke-width="0.15">0</text>
<line x1="38.80" y1="426.42" x2="42" y2="426.42" stroke="#111" stroke-width="1.2"/>
<text x="35.80" y="428.82" font-size="8.00" text-anchor="end" fill="#333" stroke="#333" stroke-width="0.15">20</text>
<line x1="38.80" y1="403.44" x2="42" y2="403.44" stroke="#111" stroke-width="1.2"/>
<text x="35.80" y="405.84" font-size="8.00" text-anchor="end" fill="#333" stroke="#333" stroke-width="0.15">40</text>
<line x1="38.80" y1="380.46" x2="42" y2="380.46" stroke="#111" stroke-width="1.2"/>
<text x="35.80" y="382.86" font-size="8.00" text-anchor="end" fill="#333" stroke="#333" stroke-width="0.15">60</text>
<line x1="38.80" y1="357.48" x2="42" y2="357.48" stroke="#111" stroke-width="1.2"/>
<text x="35.80" y="359.88" font-size="8.00" text-anchor="end" fill="#333" stroke="#333" stroke-width="0.15">80</text>
<line x1="38.80" y1="334.50" x2="42" y2="334.50" stroke="#111" stroke-width="1.2"/>
<text x="35.80" y="336.90" font-size="8.00" text-anchor="end" fill="#333" stroke="#333" stroke-width="0.15">100</text>
<text x="12.40" y="390.40" font-size="9.20" text-anchor="middle" fill="#231f20" transform="rotate(-90 12.40 390.40)" dy="3.31" stroke="#231f20" stroke-width="0.25" textLength="42.40" lengthAdjust="spacingAndGlyphs">% GFP+ cells</text>
<rect x="47.52" y="335.65" width="7.85" height="113.75" fill="rgb(172,0,42)"/>
<rect x="55.38" y="344.84" width="7.85" height="104.56" fill="rgb(45,76,128)"/>
<rect x="74.28" y="355.18" width="7.85" height="94.22" fill="rgb(172,0,42)"/>
<rect x="82.12" y="367.82" width="7.85" height="81.58" fill="rgb(45,76,128)"/>
<rect x="101.03" y="337.95" width="7.85" height="111.45" fill="rgb(172,0,42)"/>
<rect x="108.88" y="347.14" width="7.85" height="102.26" fill="rgb(45,76,128)"/>
<rect x="127.78" y="336.80" width="7.85" height="112.60" fill="rgb(172,0,42)"/>
<rect x="135.62" y="337.95" width="7.85" height="111.45" fill="rgb(45,76,128)"/>
<rect x="154.53" y="341.39" width="7.85" height="108.01" fill="rgb(172,0,42)"/>
<rect x="162.38" y="334.50" width="7.85" height="114.90" fill="rgb(45,76,128)"/>
<rect x="181.28" y="345.99" width="7.85" height="103.41" fill="rgb(172,0,42)"/>
<rect x="189.12" y="370.12" width="7.85" height="79.28" fill="rgb(45,76,128)"/>
<rect x="208.03" y="352.88" width="7.85" height="96.52" fill="rgb(172,0,42)"/>
<rect x="215.88" y="337.95" width="7.85" height="111.45" fill="rgb(45,76,128)"/>
<rect x="234.78" y="340.25" width="7.85" height="109.16" fill="rgb(172,0,42)"/>
<rect x="242.62" y="340.25" width="7.85" height="109.16" fill="rgb(45,76,128)"/>
<line x1="42" y1="449.40" x2="259.00" y2="449.40" stroke="#111" stroke-width="1.3"/>
<line x1="42.00" y1="449.40" x2="42.00" y2="493.60" stroke="#111" stroke-width="1.2"/>
<line x1="68.75" y1="449.40" x2="68.75" y2="471.60" stroke="#111" stroke-width="1.2"/>
<line x1="95.50" y1="449.40" x2="95.50" y2="471.60" stroke="#111" stroke-width="1.2"/>
<line x1="122.25" y1="449.40" x2="122.25" y2="471.60" stroke="#111" stroke-width="1.2"/>
<line x1="149.00" y1="449.40" x2="149.00" y2="493.60" stroke="#111" stroke-width="1.2"/>
<line x1="175.75" y1="449.40" x2="175.75" y2="471.60" stroke="#111" stroke-width="1.2"/>
<line x1="202.50" y1="449.40" x2="202.50" y2="471.60" stroke="#111" stroke-width="1.2"/>
<line x1="229.25" y1="449.40" x2="229.25" y2="471.60" stroke="#111" stroke-width="1.2"/>
<line x1="256.00" y1="449.40" x2="256.00" y2="493.60" stroke="#111" stroke-width="1.2"/>
<text x="55.38" y="463.10" font-size="8.50" text-anchor="middle" fill="#231f20"  textLength="10.20" lengthAdjust="spacingAndGlyphs">M1</text>
<text x="82.12" y="463.10" font-size="8.50" text-anchor="middle" fill="#231f20"  textLength="10.20" lengthAdjust="spacingAndGlyphs">M2</text>
<text x="108.88" y="463.10" font-size="8.50" text-anchor="middle" fill="#231f20"  textLength="10.20" lengthAdjust="spacingAndGlyphs">M3</text>
<text x="135.62" y="463.10" font-size="8.50" text-anchor="middle" fill="#231f20"  textLength="10.20" lengthAdjust="spacingAndGlyphs">M4</text>
<text x="162.38" y="463.10" font-size="8.50" text-anchor="middle" fill="#231f20"  textLength="10.20" lengthAdjust="spacingAndGlyphs">M1</text>
<text x="189.12" y="463.10" font-size="8.50" text-anchor="middle" fill="#231f20"  textLength="10.20" lengthAdjust="spacingAndGlyphs">M2</text>
<text x="215.88" y="463.10" font-size="8.50" text-anchor="middle" fill="#231f20"  textLength="10.20" lengthAdjust="spacingAndGlyphs">M3</text>
<text x="242.62" y="463.10" font-size="8.50" text-anchor="middle" fill="#231f20"  textLength="10.20" lengthAdjust="spacingAndGlyphs">M4</text>
<text x="95.50" y="489.90" font-size="9.40" text-anchor="middle" fill="#231f20" >Bone marrow</text>
<text x="202.50" y="489.90" font-size="9.40" text-anchor="middle" fill="#231f20" >Spleen</text>
<text x="406.40" y="302.20" font-size="10.50" text-anchor="middle" font-weight="bold" fill="#000"  textLength="62.90" lengthAdjust="spacingAndGlyphs">Unstimulated</text>
<rect x="268.80" y="313.20" width="9" height="9" fill="rgb(45,76,128)"/>
<text x="281.00" y="320.36" font-size="7.40" text-anchor="start" fill="#231f20" >Secondary transplants</text>
<line x1="302.4" y1="330.90" x2="302.4" y2="448.70" stroke="#111" stroke-width="1.4"/>
<line x1="299.20" y1="448.70" x2="302.4" y2="448.70" stroke="#111" stroke-width="1.2"/>
<text x="295.80" y="451.10" font-size="8.00" text-anchor="end" fill="#333" stroke="#333" stroke-width="0.15">0</text>
<line x1="299.20" y1="425.70" x2="302.4" y2="425.70" stroke="#111" stroke-width="1.2"/>
<text x="295.80" y="428.10" font-size="8.00" text-anchor="end" fill="#333" stroke="#333" stroke-width="0.15">20</text>
<line x1="299.20" y1="402.70" x2="302.4" y2="402.70" stroke="#111" stroke-width="1.2"/>
<text x="295.80" y="405.10" font-size="8.00" text-anchor="end" fill="#333" stroke="#333" stroke-width="0.15">40</text>
<line x1="299.20" y1="379.70" x2="302.4" y2="379.70" stroke="#111" stroke-width="1.2"/>
<text x="295.80" y="382.10" font-size="8.00" text-anchor="end" fill="#333" stroke="#333" stroke-width="0.15">60</text>
<line x1="299.20" y1="356.70" x2="302.4" y2="356.70" stroke="#111" stroke-width="1.2"/>
<text x="295.80" y="359.10" font-size="8.00" text-anchor="end" fill="#333" stroke="#333" stroke-width="0.15">80</text>
<line x1="299.20" y1="333.70" x2="302.4" y2="333.70" stroke="#111" stroke-width="1.2"/>
<text x="295.80" y="336.10" font-size="8.00" text-anchor="end" fill="#333" stroke="#333" stroke-width="0.15">100</text>
<text x="272.60" y="389.60" font-size="9.20" text-anchor="middle" fill="#231f20" transform="rotate(-90 272.60 389.60)" dy="3.31" stroke="#231f20" stroke-width="0.25" textLength="42.40" lengthAdjust="spacingAndGlyphs">% GFP+ cells</text>
<rect x="307.75" y="358.19" width="7.60" height="90.50" fill="rgb(172,0,42)"/>
<rect x="315.35" y="337.15" width="7.60" height="111.55" fill="rgb(45,76,128)"/>
<rect x="333.65" y="366.82" width="7.60" height="81.88" fill="rgb(172,0,42)"/>
<rect x="341.25" y="346.24" width="7.60" height="102.46" fill="rgb(45,76,128)"/>
<rect x="359.55" y="364.75" width="7.60" height="83.95" fill="rgb(172,0,42)"/>
<rect x="367.15" y="348.88" width="7.60" height="99.82" fill="rgb(45,76,128)"/>
<rect x="385.45" y="366.94" width="7.60" height="81.76" fill="rgb(172,0,42)"/>
<rect x="393.05" y="334.85" width="7.60" height="113.85" fill="rgb(45,76,128)"/>
<rect x="411.35" y="349.80" width="7.60" height="98.90" fill="rgb(172,0,42)"/>
<rect x="418.95" y="337.15" width="7.60" height="111.55" fill="rgb(45,76,128)"/>
<rect x="437.25" y="363.60" width="7.60" height="85.10" fill="rgb(172,0,42)"/>
<rect x="444.85" y="363.60" width="7.60" height="85.10" fill="rgb(45,76,128)"/>
<rect x="463.15" y="367.05" width="7.60" height="81.65" fill="rgb(172,0,42)"/>
<rect x="470.75" y="357.85" width="7.60" height="90.85" fill="rgb(45,76,128)"/>
<rect x="489.05" y="363.60" width="7.60" height="85.10" fill="rgb(172,0,42)"/>
<rect x="496.65" y="351.87" width="7.60" height="96.83" fill="rgb(45,76,128)"/>
<line x1="302.4" y1="448.70" x2="512.60" y2="448.70" stroke="#111" stroke-width="1.3"/>
<line x1="302.40" y1="448.70" x2="302.40" y2="492.90" stroke="#111" stroke-width="1.2"/>
<line x1="328.30" y1="448.70" x2="328.30" y2="470.90" stroke="#111" stroke-width="1.2"/>
<line x1="354.20" y1="448.70" x2="354.20" y2="470.90" stroke="#111" stroke-width="1.2"/>
<line x1="380.10" y1="448.70" x2="380.10" y2="470.90" stroke="#111" stroke-width="1.2"/>
<line x1="406.00" y1="448.70" x2="406.00" y2="492.90" stroke="#111" stroke-width="1.2"/>
<line x1="431.90" y1="448.70" x2="431.90" y2="470.90" stroke="#111" stroke-width="1.2"/>
<line x1="457.80" y1="448.70" x2="457.80" y2="470.90" stroke="#111" stroke-width="1.2"/>
<line x1="483.70" y1="448.70" x2="483.70" y2="470.90" stroke="#111" stroke-width="1.2"/>
<line x1="509.60" y1="448.70" x2="509.60" y2="492.90" stroke="#111" stroke-width="1.2"/>
<text x="315.35" y="462.40" font-size="8.50" text-anchor="middle" fill="#231f20"  textLength="10.20" lengthAdjust="spacingAndGlyphs">M1</text>
<text x="341.25" y="462.40" font-size="8.50" text-anchor="middle" fill="#231f20"  textLength="10.20" lengthAdjust="spacingAndGlyphs">M2</text>
<text x="367.15" y="462.40" font-size="8.50" text-anchor="middle" fill="#231f20"  textLength="10.20" lengthAdjust="spacingAndGlyphs">M3</text>
<text x="393.05" y="462.40" font-size="8.50" text-anchor="middle" fill="#231f20"  textLength="10.20" lengthAdjust="spacingAndGlyphs">M4</text>
<text x="418.95" y="462.40" font-size="8.50" text-anchor="middle" fill="#231f20"  textLength="10.20" lengthAdjust="spacingAndGlyphs">M1</text>
<text x="444.85" y="462.40" font-size="8.50" text-anchor="middle" fill="#231f20"  textLength="10.20" lengthAdjust="spacingAndGlyphs">M2</text>
<text x="470.75" y="462.40" font-size="8.50" text-anchor="middle" fill="#231f20"  textLength="10.20" lengthAdjust="spacingAndGlyphs">M3</text>
<text x="496.65" y="462.40" font-size="8.50" text-anchor="middle" fill="#231f20"  textLength="10.20" lengthAdjust="spacingAndGlyphs">M4</text>
<text x="354.20" y="489.20" font-size="9.40" text-anchor="middle" fill="#231f20" >Bone marrow</text>
<text x="457.80" y="489.20" font-size="9.40" text-anchor="middle" fill="#231f20" >Spleen</text>
<line x1="42.3" y1="529.40" x2="42.3" y2="652.20" stroke="#111" stroke-width="1.4"/>
<line x1="39.10" y1="652.20" x2="42.3" y2="652.20" stroke="#111" stroke-width="1.2"/>
<text x="35.90" y="654.60" font-size="8.00" text-anchor="end" fill="#333" stroke="#333" stroke-width="0.15">0</text>
<line x1="39.10" y1="628.20" x2="42.3" y2="628.20" stroke="#111" stroke-width="1.2"/>
<text x="35.90" y="630.60" font-size="8.00" text-anchor="end" fill="#333" stroke="#333" stroke-width="0.15">20</text>
<line x1="39.10" y1="604.20" x2="42.3" y2="604.20" stroke="#111" stroke-width="1.2"/>
<text x="35.90" y="606.60" font-size="8.00" text-anchor="end" fill="#333" stroke="#333" stroke-width="0.15">40</text>
<line x1="39.10" y1="580.20" x2="42.3" y2="580.20" stroke="#111" stroke-width="1.2"/>
<text x="35.90" y="582.60" font-size="8.00" text-anchor="end" fill="#333" stroke="#333" stroke-width="0.15">60</text>
<line x1="39.10" y1="556.20" x2="42.3" y2="556.20" stroke="#111" stroke-width="1.2"/>
<text x="35.90" y="558.60" font-size="8.00" text-anchor="end" fill="#333" stroke="#333" stroke-width="0.15">80</text>
<line x1="39.10" y1="532.20" x2="42.3" y2="532.20" stroke="#111" stroke-width="1.2"/>
<text x="35.90" y="534.60" font-size="8.00" text-anchor="end" fill="#333" stroke="#333" stroke-width="0.15">100</text>
<text x="12.50" y="590.80" font-size="9.20" text-anchor="middle" fill="#231f20" transform="rotate(-90 12.50 590.80)" dy="3.31" stroke="#231f20" stroke-width="0.25" textLength="42.40" lengthAdjust="spacingAndGlyphs">% GFP+ cells</text>
<rect x="48.10" y="534.60" width="8.42" height="117.60" fill="rgb(172,0,42)"/>
<rect x="56.52" y="537.00" width="8.42" height="115.20" fill="rgb(45,76,128)"/>
<rect x="64.94" y="545.40" width="8.42" height="106.80" fill="rgb(110,170,60)"/>
<rect x="73.36" y="550.20" width="8.42" height="102.00" fill="rgb(85,35,100)"/>
<rect x="81.78" y="539.40" width="8.42" height="112.80" fill="rgb(225,140,35)"/>
<rect x="101.95" y="538.20" width="8.42" height="114.00" fill="rgb(172,0,42)"/>
<rect x="110.37" y="547.80" width="8.42" height="104.40" fill="rgb(45,76,128)"/>
<rect x="118.79" y="538.20" width="8.42" height="114.00" fill="rgb(110,170,60)"/>
<rect x="127.21" y="550.20" width="8.42" height="102.00" fill="rgb(85,35,100)"/>
<rect x="135.63" y="550.20" width="8.42" height="102.00" fill="rgb(225,140,35)"/>
<rect x="155.80" y="556.20" width="8.42" height="96.00" fill="rgb(172,0,42)"/>
<rect x="164.22" y="559.80" width="8.42" height="92.40" fill="rgb(45,76,128)"/>
<rect x="172.64" y="556.20" width="8.42" height="96.00" fill="rgb(110,170,60)"/>
<rect x="181.06" y="550.20" width="8.42" height="102.00" fill="rgb(85,35,100)"/>
<rect x="189.48" y="553.80" width="8.42" height="98.40" fill="rgb(225,140,35)"/>
<rect x="209.65" y="534.60" width="8.42" height="117.60" fill="rgb(172,0,42)"/>
<rect x="218.07" y="538.20" width="8.42" height="114.00" fill="rgb(45,76,128)"/>
<rect x="226.49" y="544.20" width="8.42" height="108.00" fill="rgb(110,170,60)"/>
<rect x="234.91" y="535.80" width="8.42" height="116.40" fill="rgb(85,35,100)"/>
<rect x="243.33" y="537.00" width="8.42" height="115.20" fill="rgb(225,140,35)"/>
<line x1="42.3" y1="652.20" x2="257.30" y2="652.20" stroke="#111" stroke-width="1.3"/>
<line x1="42.30" y1="652.20" x2="42.30" y2="655.40" stroke="#111" stroke-width="1.2"/>
<line x1="95.33" y1="652.20" x2="95.33" y2="655.40" stroke="#111" stroke-width="1.2"/>
<line x1="148.36" y1="652.20" x2="148.36" y2="655.40" stroke="#111" stroke-width="1.2"/>
<line x1="201.39" y1="652.20" x2="201.39" y2="655.40" stroke="#111" stroke-width="1.2"/>
<line x1="254.42" y1="652.20" x2="254.42" y2="655.40" stroke="#111" stroke-width="1.2"/>
<text x="68.81" y="666.20" font-size="8.50" text-anchor="middle" fill="#231f20"  textLength="10.20" lengthAdjust="spacingAndGlyphs">M1</text>
<text x="121.84" y="666.20" font-size="8.50" text-anchor="middle" fill="#231f20"  textLength="10.20" lengthAdjust="spacingAndGlyphs">M2</text>
<text x="174.88" y="666.20" font-size="8.50" text-anchor="middle" fill="#231f20"  textLength="10.20" lengthAdjust="spacingAndGlyphs">M3</text>
<text x="227.91" y="666.20" font-size="8.50" text-anchor="middle" fill="#231f20"  textLength="10.20" lengthAdjust="spacingAndGlyphs">M4</text>
<rect x="79.40" y="678.50" width="6" height="6" fill="rgb(172,0,42)"/>
<text x="88.60" y="684.31" font-size="7.80" text-anchor="start" fill="#231f20" >CD45</text>
<rect x="135.50" y="678.50" width="6" height="6" fill="rgb(45,76,128)"/>
<text x="144.70" y="684.31" font-size="7.80" text-anchor="start" fill="#231f20" >CD13</text>
<rect x="191.60" y="678.50" width="6" height="6" fill="rgb(110,170,60)"/>
<text x="200.80" y="684.31" font-size="7.80" text-anchor="start" fill="#231f20" >CD14</text>
<line x1="306.2" y1="528.00" x2="306.2" y2="652.10" stroke="#111" stroke-width="1.4"/>
<line x1="303.00" y1="652.10" x2="306.2" y2="652.10" stroke="#111" stroke-width="1.2"/>
<text x="299.20" y="654.50" font-size="8.00" text-anchor="end" fill="#333" stroke="#333" stroke-width="0.15">0</text>
<line x1="303.00" y1="627.84" x2="306.2" y2="627.84" stroke="#111" stroke-width="1.2"/>
<text x="299.20" y="630.24" font-size="8.00" text-anchor="end" fill="#333" stroke="#333" stroke-width="0.15">20</text>
<line x1="303.00" y1="603.58" x2="306.2" y2="603.58" stroke="#111" stroke-width="1.2"/>
<text x="299.20" y="605.98" font-size="8.00" text-anchor="end" fill="#333" stroke="#333" stroke-width="0.15">40</text>
<line x1="303.00" y1="579.32" x2="306.2" y2="579.32" stroke="#111" stroke-width="1.2"/>
<text x="299.20" y="581.72" font-size="8.00" text-anchor="end" fill="#333" stroke="#333" stroke-width="0.15">60</text>
<line x1="303.00" y1="555.06" x2="306.2" y2="555.06" stroke="#111" stroke-width="1.2"/>
<text x="299.20" y="557.46" font-size="8.00" text-anchor="end" fill="#333" stroke="#333" stroke-width="0.15">80</text>
<line x1="303.00" y1="530.80" x2="306.2" y2="530.80" stroke="#111" stroke-width="1.2"/>
<text x="299.20" y="533.20" font-size="8.00" text-anchor="end" fill="#333" stroke="#333" stroke-width="0.15">100</text>
<text x="276.10" y="590.30" font-size="9.20" text-anchor="middle" fill="#231f20" transform="rotate(-90 276.10 590.30)" dy="3.31" stroke="#231f20" stroke-width="0.25" textLength="42.40" lengthAdjust="spacingAndGlyphs">% GFP+ cells</text>
<rect x="314.20" y="534.44" width="11.50" height="117.66" fill="rgb(172,0,42)"/>
<rect x="325.70" y="551.42" width="11.50" height="100.68" fill="rgb(45,76,128)"/>
<rect x="337.20" y="541.72" width="11.50" height="110.38" fill="rgb(110,170,60)"/>
<rect x="365.30" y="562.34" width="11.50" height="89.76" fill="rgb(172,0,42)"/>
<rect x="376.80" y="559.31" width="11.50" height="92.79" fill="rgb(45,76,128)"/>
<rect x="388.30" y="555.06" width="11.50" height="97.04" fill="rgb(110,170,60)"/>
<rect x="416.40" y="552.63" width="11.50" height="99.47" fill="rgb(172,0,42)"/>
<rect x="427.90" y="547.18" width="11.50" height="104.92" fill="rgb(45,76,128)"/>
<rect x="439.40" y="553.85" width="11.50" height="98.25" fill="rgb(110,170,60)"/>
<rect x="467.50" y="546.57" width="11.50" height="105.53" fill="rgb(172,0,42)"/>
<rect x="479.00" y="567.19" width="11.50" height="84.91" fill="rgb(45,76,128)"/>
<rect x="490.50" y="557.49" width="11.50" height="94.61" fill="rgb(110,170,60)"/>
<line x1="306.0" y1="652.10" x2="510.00" y2="652.10" stroke="#111" stroke-width="1.3"/>
<line x1="306.00" y1="652.10" x2="306.00" y2="655.30" stroke="#111" stroke-width="1.2"/>
<line x1="356.50" y1="652.10" x2="356.50" y2="655.30" stroke="#111" stroke-width="1.2"/>
<line x1="407.00" y1="652.10" x2="407.00" y2="655.30" stroke="#111" stroke-width="1.2"/>
<line x1="457.50" y1="652.10" x2="457.50" y2="655.30" stroke="#111" stroke-width="1.2"/>
<line x1="508.00" y1="652.10" x2="508.00" y2="655.30" stroke="#111" stroke-width="1.2"/>
<text x="331.25" y="666.10" font-size="8.50" text-anchor="middle" fill="#231f20"  textLength="10.20" lengthAdjust="spacingAndGlyphs">M1</text>
<text x="381.75" y="666.10" font-size="8.50" text-anchor="middle" fill="#231f20"  textLength="10.20" lengthAdjust="spacingAndGlyphs">M2</text>
<text x="432.25" y="666.10" font-size="8.50" text-anchor="middle" fill="#231f20"  textLength="10.20" lengthAdjust="spacingAndGlyphs">M3</text>
<text x="482.75" y="666.10" font-size="8.50" text-anchor="middle" fill="#231f20"  textLength="10.20" lengthAdjust="spacingAndGlyphs">M4</text>
<rect x="348.60" y="678.50" width="6" height="6" fill="rgb(172,0,42)"/>
<text x="357.80" y="684.31" font-size="7.80" text-anchor="start" fill="#231f20" >CD45</text>
<rect x="395.50" y="678.50" width="6" height="6" fill="rgb(45,76,128)"/>
<text x="404.70" y="684.31" font-size="7.80" text-anchor="start" fill="#231f20" >CD14</text>
<rect x="443.10" y="678.50" width="6" height="6" fill="rgb(110,170,60)"/>
<text x="452.30" y="684.31" font-size="7.80" text-anchor="start" fill="#231f20" >CD19</text>
<rect x="0" y="0" width="520" height="1.3" fill="#000"/>
<rect x="0" y="0" width="1.4" height="693" fill="#000"/>
<rect x="518.2" y="0" width="1.8" height="693" fill="#000"/>
<rect x="0" y="690.6" width="520" height="2.4" fill="#000"/>
</svg></body></html>
